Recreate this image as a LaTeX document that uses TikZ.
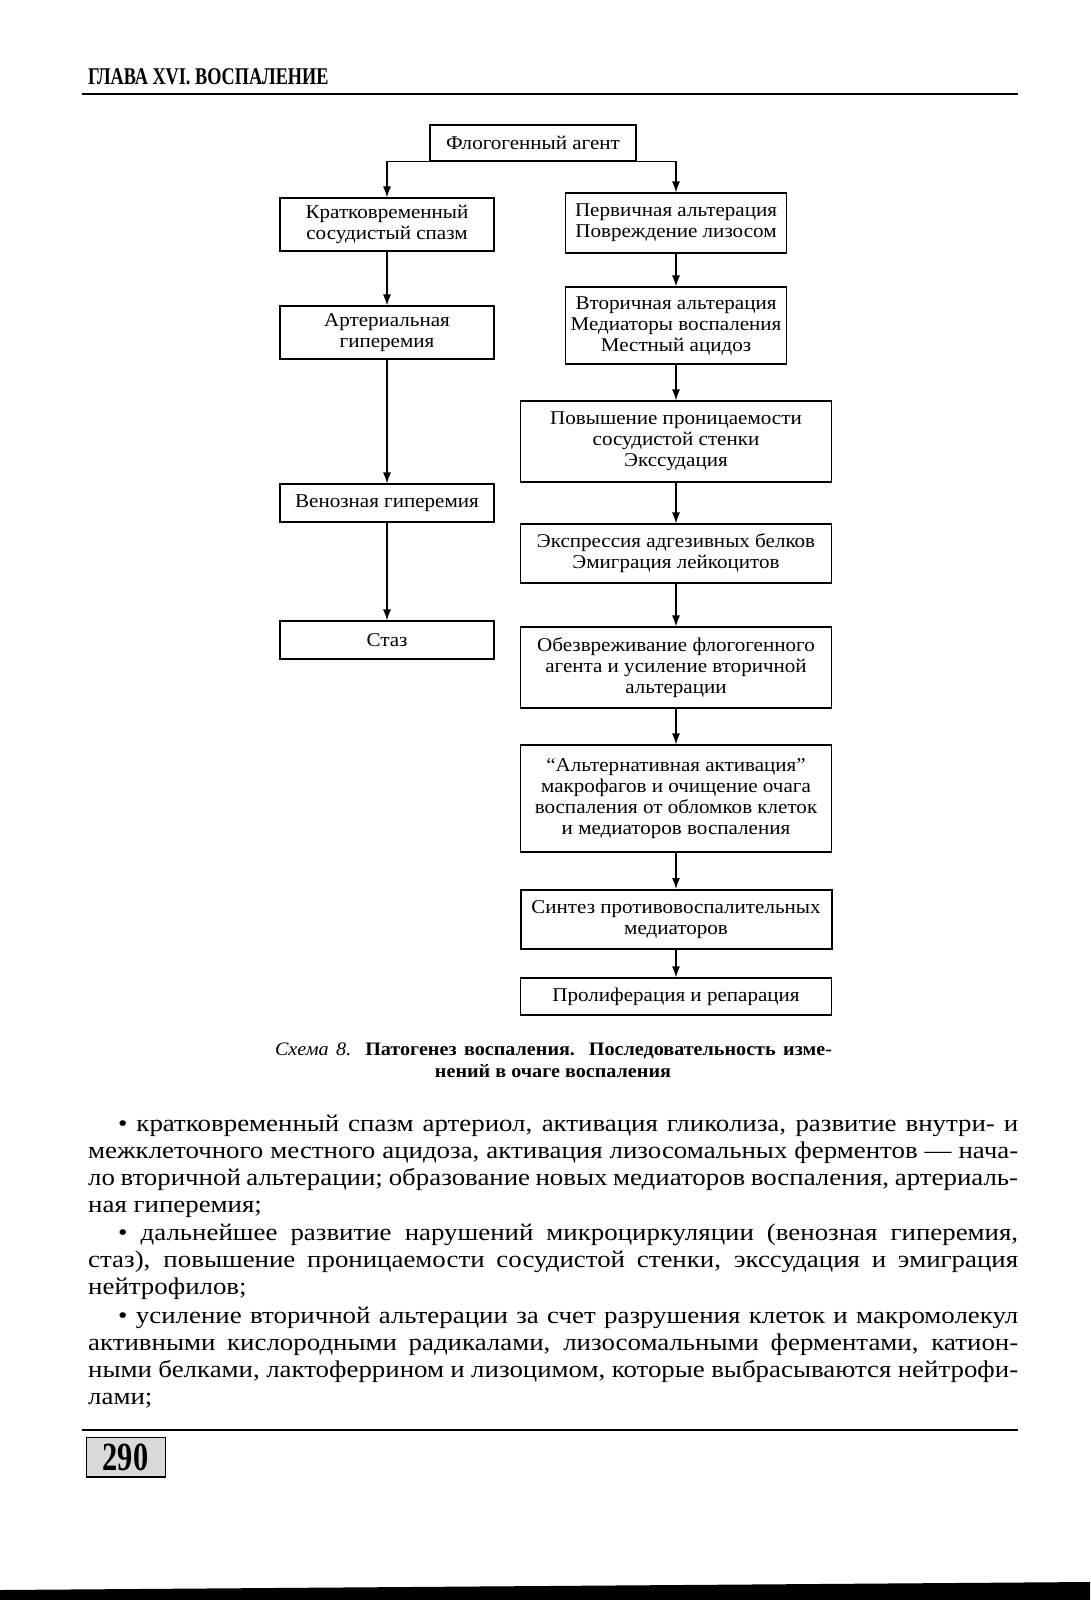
\documentclass[tikz,border=0pt]{standalone}
\usepackage{fontspec}
\setmainfont{Liberation Serif}
\newfontfamily\bodyfont[FakeStretch=1.12]{Liberation Serif}
\newfontfamily\boxfont[FakeStretch=1.08]{Liberation Serif}
\newfontfamily\capfont[FakeStretch=1.06]{Liberation Serif}
\newfontfamily\headfont[FakeStretch=0.76]{Liberation Serif}
\usetikzlibrary{arrows.meta}
\begin{document}
\begin{tikzpicture}[x=1pt,y=-1pt,
  box/.style={draw,line width=1.1pt,align=center,inner sep=0pt,font=\boxfont\fontsize{19.5}{21}\selectfont},
  conn/.style={line width=1.3pt,-{Latex[length=11pt,width=8pt]}},
  bodyline/.style={anchor=base west,inner sep=0pt,font=\bodyfont\fontsize{24}{27}\selectfont}]
\useasboundingbox[fill=white] (0,0) rectangle (1090,1600);

% header
\node[anchor=base west,inner sep=0pt,font=\headfont\bfseries\fontsize{24}{24}\selectfont] (head) at (88,85) {ГЛАВА XVI. ВОСПАЛЕНИЕ};
\draw[line width=1.2pt] (82,94) -- (1018,94);

% flowchart
\node[box,minimum width=206pt,minimum height=36pt] (top) at (533,143) {Флогогенный агент};

\node[box,minimum width=214pt,minimum height=53pt] (k1) at (387,224.5) {Кратковременный\\сосудистый спазм};
\node[box,minimum width=214pt,minimum height=53pt] (k2) at (387,332.5) {Артериальная\\гиперемия};
\node[box,minimum width=214pt,minimum height=38pt] (k3) at (387,503) {Венозная гиперемия};
\node[box,minimum width=214pt,minimum height=38pt] (k4) at (387,640) {Стаз};

\node[box,minimum width=221pt,minimum height=60pt] (p1) at (676,223) {Первичная альтерация\\Повреждение лизосом};
\node[box,minimum width=221pt,minimum height=77pt] (p2) at (676,325.5) {Вторичная альтерация\\Медиаторы воспаления\\Местный ацидоз};
\node[box,minimum width=311pt,minimum height=81pt] (p3) at (676,441.5) {Повышение проницаемости\\сосудистой стенки\\Экссудация};
\node[box,minimum width=311pt,minimum height=59pt] (p4) at (676,553.5) {Экспрессия адгезивных белков\\Эмиграция лейкоцитов};
\node[box,minimum width=311pt,minimum height=81pt] (p5) at (676,667.5) {Обезвреживание флогогенного\\агента и усиление вторичной\\альтерации};
\node[box,minimum width=311pt,minimum height=107pt] (p6) at (676,798.5) {“Альтернативная активация”\\макрофагов и очищение очага\\воспаления от обломков клеток\\и медиаторов воспаления};
\node[box,line width=2pt,minimum width=311pt,minimum height=59pt] (p7) at (676,919.5) {Синтез противовоспалительных\\медиаторов};
\node[box,minimum width=311pt,minimum height=37pt] (p8) at (676,996.5) {Пролиферация и репарация};

\draw[conn] (top.south) -| (k1.north);
\draw[conn] (top.south) -| (p1.north);
\draw[conn] (k1) -- (k2);
\draw[conn] (k2) -- (k3);
\draw[conn] (k3) -- (k4);
\draw[conn] (p1) -- (p2);
\draw[conn] (p2) -- (p3);
\draw[conn] (p3) -- (p4);
\draw[conn] (p4) -- (p5);
\draw[conn] (p5) -- (p6);
\draw[conn] (p6) -- (p7);
\draw[conn] (p7) -- (p8);

% caption
\node[anchor=base,inner sep=0pt,font=\capfont\fontsize{19}{22}\selectfont] (cap1) at (553.5,1055) {\makebox[557pt][s]{\textit{Схема 8.} \textbf{Патогенез воспаления. Последовательность изме-}}};
\node[anchor=base,inner sep=0pt,font=\capfont\bfseries\fontsize{19}{22}\selectfont] (cap2) at (553,1077) {нений в очаге воспаления};

% body text
\node[bodyline] (b1) at (118,1131) {\makebox[900pt][s]{• кратковременный спазм артериол, активация гликолиза, развитие внутри- и}};
\node[bodyline] (b2) at (88,1158) {\makebox[930pt][s]{межклеточного местного ацидоза, активация лизосомальных ферментов — нача-}};
\node[bodyline] (b3) at (88,1185) {\makebox[930pt][s]{ло вторичной альтерации; образование новых медиаторов воспаления, артериаль-}};
\node[bodyline] (b4) at (88,1212) {ная гиперемия;};
\node[bodyline] (b5) at (118,1240) {\makebox[900pt][s]{• дальнейшее развитие нарушений микроциркуляции (венозная гиперемия,}};
\node[bodyline] (b6) at (88,1267) {\makebox[930pt][s]{стаз), повышение проницаемости сосудистой стенки, экссудация и эмиграция}};
\node[bodyline] (b7) at (88,1294) {нейтрофилов;};
\node[bodyline] (b8) at (118,1323) {\makebox[900pt][s]{• усиление вторичной альтерации за счет разрушения клеток и макромолекул}};
\node[bodyline] (b9) at (88,1350) {\makebox[930pt][s]{активными кислородными радикалами, лизосомальными ферментами, катион-}};
\node[bodyline] (b10) at (88,1377) {\makebox[930pt][s]{ными белками, лактоферрином и лизоцимом, которые выбрасываются нейтрофи-}};
\node[bodyline] (b11) at (88,1404) {лами;};

% footer
\draw[line width=1.2pt] (82,1430) -- (1018,1430);
\node[draw,line width=0.8pt,fill=gray!30,minimum width=79pt,minimum height=40pt,inner sep=0pt,font=\headfont\bfseries\fontsize{40}{40}\selectfont] (pg) at (125.5,1457) {290};
\draw[line width=2pt] (pg.south west) -- (pg.south east);

% scan edge
\fill[black] (0,1590) -- (1090,1582) -- (1090,1600) -- (0,1600) -- cycle;
\end{tikzpicture}
\end{document}
